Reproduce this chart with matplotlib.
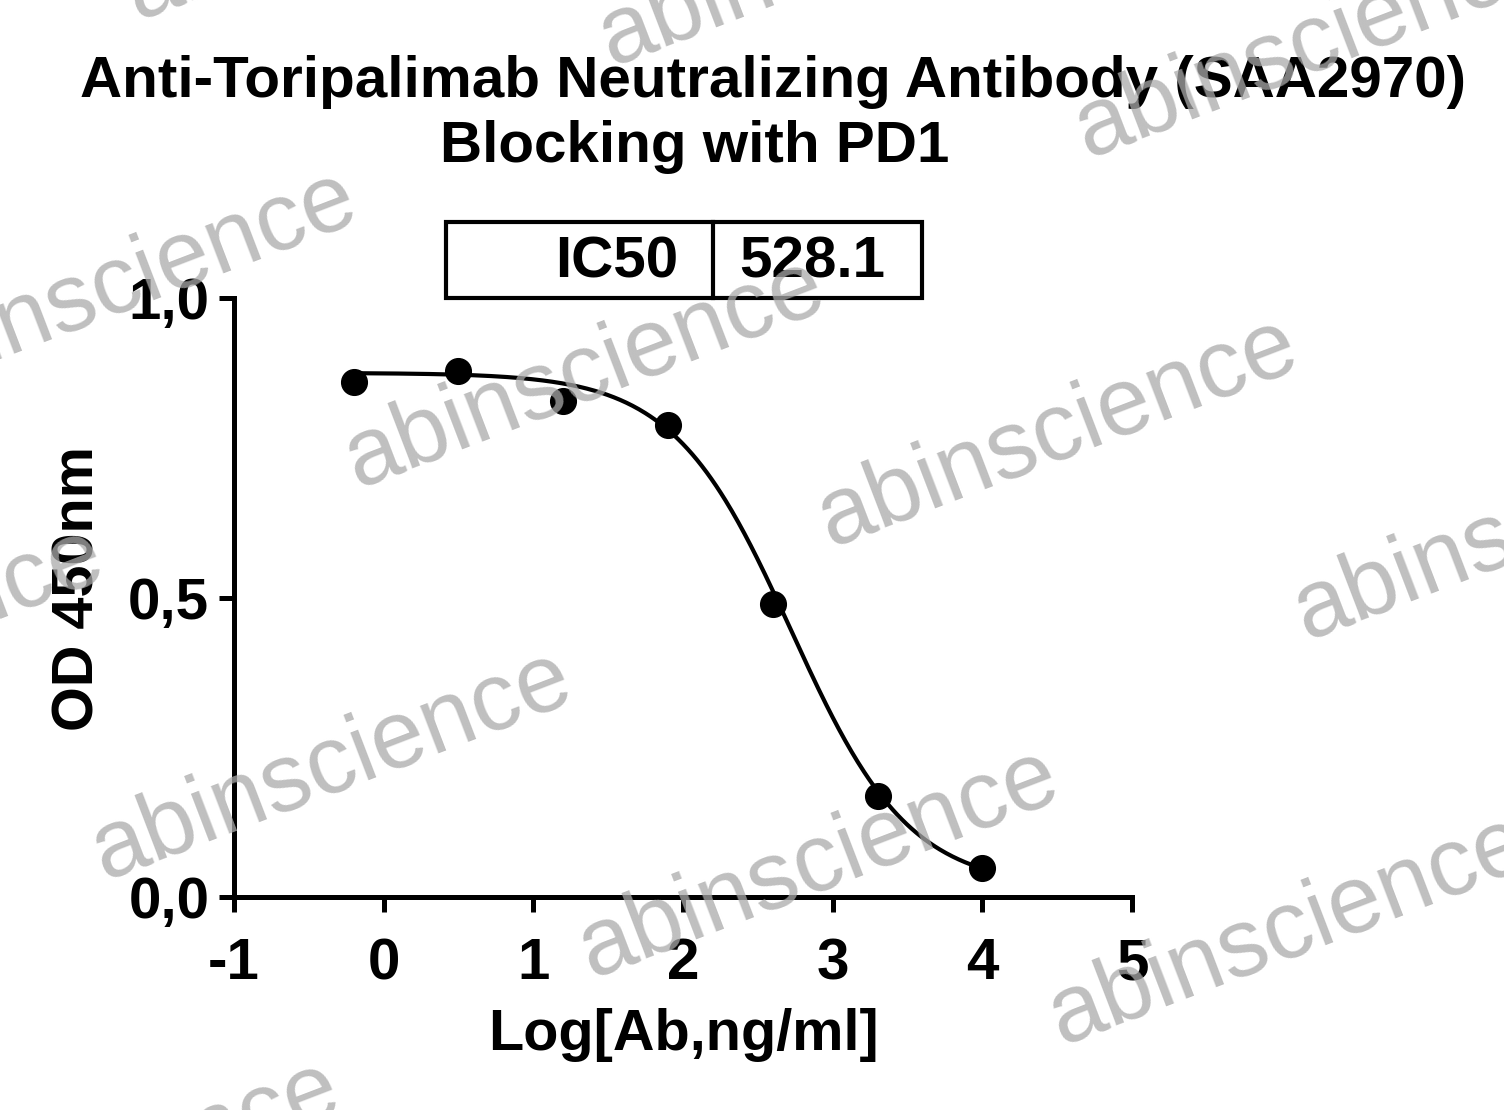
import numpy as np
import matplotlib.pyplot as plt
from matplotlib.patches import Rectangle
from matplotlib.lines import Line2D

plt.rcParams['font.family'] = ['Liberation Sans', 'DejaVu Sans']

# measured points (log concentration vs OD450)
log_conc = [-0.2, 0.5, 1.2, 1.9, 2.6, 3.3, 4.0]
od450 = [0.86, 0.878, 0.828, 0.788, 0.489, 0.169, 0.048]

# 4PL fit parameters
fit_top = 0.875
fit_bottom = 0.015
ic50 = 528.1
hill = 1.1

x_ticks = [-1, 0, 1, 2, 3, 4, 5]
x_tick_labels = ['-1', '0', '1', '2', '3', '4', '5']
y_ticks = [0.0, 0.5, 1.0]
y_tick_labels = ['0,0', '0,5', '1,0']

title_1 = "Anti-Toripalimab Neutralizing Antibody (SAA2970)"
title_2 = "Blocking with PD1"
watermark = "abinscience"

W, H = 1504, 1110


def px(x, y):
    # pixel position (from top-left) -> figure fraction
    return x / W, 1 - y / H


def plot_curve():
    fig = plt.figure(figsize=(W / 100, H / 100), dpi=100)
    ax = fig.add_axes([234 / W, 1 - 897 / H, 898 / W, 599 / H])

    # fitted curve
    xs = np.linspace(min(log_conc), max(log_conc), 400)
    ys = fit_bottom + (fit_top - fit_bottom) / (1 + 10 ** ((xs - np.log10(ic50)) * hill))
    ax.plot(xs, ys, color='black', lw=3.0, zorder=2)
    ax.plot(log_conc, od450, 'o', color='black', ms=18.5, zorder=3, clip_on=False)

    ax.set_xlim(-1, 5)
    ax.set_ylim(0, 1.0)
    ax.set_xticks(x_ticks)
    ax.set_xticklabels(x_tick_labels)
    ax.set_yticks(y_ticks)
    ax.set_yticklabels(y_tick_labels)
    for s in ['top', 'right']:
        ax.spines[s].set_visible(False)
    for s in ['left', 'bottom']:
        ax.spines[s].set_linewidth(3.6)
    ax.tick_params(axis='both', length=10.8, width=3.6, labelsize=42)
    ax.tick_params(axis='x', pad=18)
    ax.tick_params(axis='y', pad=7)
    for lab in ax.get_xticklabels() + ax.get_yticklabels():
        lab.set_fontweight('bold')

    ax.set_xlabel("Log[Ab,ng/ml]", fontsize=41.5, fontweight='bold', va='baseline')
    ax.xaxis.set_label_coords(0.5, (897 - 1050) / 599)
    ax.set_ylabel("OD 450nm", fontsize=41.5, fontweight='bold', va='center', ha='center')
    ax.yaxis.set_label_coords((78 - 234) / 898, (897 - 589) / 599)

    # title
    fig.text(*px(773, 97), title_1, ha='center', va='baseline', fontsize=42, fontweight='bold')
    fig.text(*px(695, 162), title_2, ha='center', va='baseline', fontsize=42, fontweight='bold')

    # IC50 table
    x0, y0 = px(446, 298)
    fig.add_artist(Rectangle((x0, y0), (922 - 446) / W, (298 - 222) / H,
                             transform=fig.transFigure, fill=False, lw=3, color='black'))
    fig.add_artist(Line2D([713 / W, 713 / W], [1 - 222 / H, 1 - 298 / H],
                          transform=fig.transFigure, lw=3, color='black'))
    fig.text(*px(678, 277), "IC50", ha='right', va='baseline', fontsize=42, fontweight='bold')
    fig.text(*px(739, 277), f"{ic50:.1f}", ha='left', va='baseline', fontsize=42, fontweight='bold')

    # watermarks
    wm_spots = [(138, 20), (612, 66), (1088, 158), (-110, 400), (358, 488), (831, 547),
                (1307, 640), (-363, 757), (105, 880), (592, 978), (1062, 1045), (-127, 1290)]
    for x, y in wm_spots:
        fig.text(*px(x, y), watermark, ha='left', va='baseline', rotation=21,
                 rotation_mode='anchor', fontsize=69, color='#aaaaaa', alpha=0.75, zorder=10)

    fig.savefig("out.png", dpi=100)


if __name__ == "__main__":
    plot_curve()
